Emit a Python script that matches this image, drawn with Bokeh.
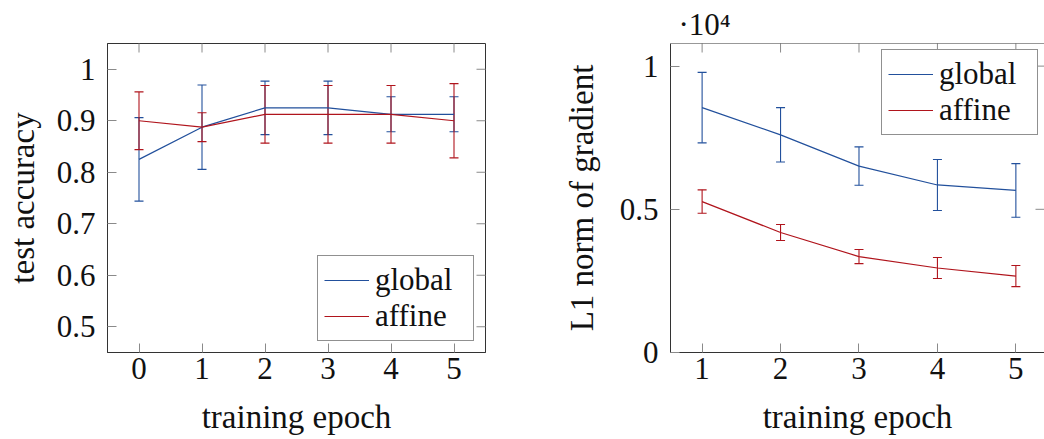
import math
from bokeh.plotting import figure
from bokeh.models import Range1d, FixedTicker, Whisker, ColumnDataSource, TeeHead, Span
from bokeh.layouts import row
from bokeh.embed import file_html
from bokeh.resources import INLINE

# ---------------- data ----------------
epochs_acc = [0, 1, 2, 3, 4, 5]
acc_global = [0.825, 0.8875, 0.925, 0.925, 0.9125, 0.9125]
acc_global_err = [0.081, 0.082, 0.052, 0.052, 0.034, 0.034]
acc_affine = [0.9, 0.8875, 0.9125, 0.9125, 0.9125, 0.9]
acc_affine_err = [0.056, 0.028, 0.056, 0.056, 0.056, 0.072]

epochs_grad = [1, 2, 3, 4, 5]
grad_global = [8550, 7600, 6510, 5850, 5660]
grad_global_err = [1230, 950, 670, 890, 935]
grad_affine = [5270, 4190, 3350, 2950, 2670]
grad_affine_err = [410, 280, 245, 365, 370]

acc_yticks = [0.5, 0.6, 0.7, 0.8, 0.9, 1.0]
acc_ytick_labels = ["0.5", "0.6", "0.7", "0.8", "0.9", "1"]
grad_yticks = [0, 5000, 10000]
grad_ytick_labels = ["0", "0.5", "1"]

series_names = ["global", "affine"]
BLUE = "#22509c"
RED = "#b0141c"
FONT = "Liberation Serif, DejaVu Serif, serif"
FS = "31px"
FS_LAB = "33px"
FRAME = "#333333"
TICK = "#8a8a8a"
TXT = "#111111"


def base_fig(width, xr, yr, min_left, min_right, ylab_standoff,
             xticks, yticks, ylabels, ylab):
    p = figure(width=width, height=439, x_range=Range1d(*xr), y_range=Range1d(*yr),
               output_backend="svg", toolbar_location=None,
               min_border_left=min_left, min_border_right=min_right,
               min_border_top=43, min_border_bottom=87)
    p.grid.visible = False
    p.outline_line_color = FRAME
    p.xaxis.ticker = FixedTicker(ticks=xticks)
    p.yaxis.ticker = FixedTicker(ticks=yticks)
    p.yaxis.major_label_overrides = {t: l for t, l in zip(yticks, ylabels)}
    p.xaxis.axis_label = "training epoch"
    p.yaxis.axis_label = ylab
    for ax in (p.xaxis[0], p.yaxis[0]):
        ax.axis_line_color = FRAME
        ax.major_tick_in = 9
        ax.major_tick_out = 0
        ax.major_tick_line_color = TICK
        ax.minor_tick_line_color = None
        ax.major_label_text_font = FONT
        ax.major_label_text_font_size = FS
        ax.major_label_text_color = TXT
        ax.axis_label_text_font = FONT
        ax.axis_label_text_font_size = FS_LAB
        ax.axis_label_text_font_style = "normal"
        ax.axis_label_text_color = TXT
    p.xaxis.major_label_standoff = 5
    p.xaxis.axis_label_standoff = 17
    p.yaxis.major_label_standoff = 12
    p.yaxis.axis_label_standoff = ylab_standoff
    # mirrored inward ticks on top and right edges (clipped to the frame)
    p.scatter(x=xticks, y=[yr[1]] * len(xticks), marker="dash", angle=math.pi / 2,
              size=18, line_color=TICK, line_width=1)
    p.scatter(x=[xr[1]] * len(yticks), y=yticks, marker="dash",
              size=18, line_color=TICK, line_width=1)
    return p


def add_series(p, xs, ys, errs, color, name):
    src = ColumnDataSource(dict(x=xs, y=ys,
                                upper=[v + e for v, e in zip(ys, errs)],
                                lower=[v - e for v, e in zip(ys, errs)]))
    p.line("x", "y", source=src, line_color=color, line_width=1.2, legend_label=name)
    w = Whisker(source=src, base="x", upper="upper", lower="lower",
                line_color=color, line_width=1.1,
                upper_head=TeeHead(size=9, line_color=color, line_width=1.1),
                lower_head=TeeHead(size=9, line_color=color, line_width=1.1))
    p.add_layout(w)


def style_legend(p, loc, margin):
    lg = p.legend[0]
    lg.location = loc
    lg.margin = margin
    lg.label_text_font = FONT
    lg.label_text_font_size = FS
    lg.label_text_color = TXT
    lg.border_line_color = "#222222"
    lg.border_line_width = 1
    lg.glyph_width = 45
    lg.glyph_height = 20
    lg.label_standoff = 6
    lg.label_width = 92
    lg.padding = 6
    lg.spacing = 0
    lg.background_fill_alpha = 1.0


# ---------------- left: test accuracy ----------------
acc_xr = (-0.5, 5.5)
acc_yr = (0.45, 1.05)
p1 = base_fig(560, acc_xr, acc_yr, 107, 75, 13, epochs_acc, acc_yticks,
              acc_ytick_labels, "test accuracy")
add_series(p1, epochs_acc, acc_global, acc_global_err, BLUE, series_names[0])
add_series(p1, epochs_acc, acc_affine, acc_affine_err, RED, series_names[1])
style_legend(p1, "bottom_right", 11)

# ---------------- right: L1 norm of gradient ----------------
grad_xr = (0.597, 5.365)
grad_yr = (0, 10790)
p2 = base_fig(484, grad_xr, grad_yr, 109, 0, 17, epochs_grad, grad_yticks,
              grad_ytick_labels, "L1 norm of gradient")
p2.outline_line_color = None
p2.add_layout(Span(location=grad_yr[1], dimension="width", line_color=FRAME, line_width=1))
add_series(p2, epochs_grad, grad_global, grad_global_err, BLUE, series_names[0])
add_series(p2, epochs_grad, grad_affine, grad_affine_err, RED, series_names[1])
style_legend(p2, "top_right", 6)

p2.title.text = "\u00b710\u2074"
p2.title.align = "left"
p2.title.offset = 8
p2.title.standoff = 4
p2.title.text_font = FONT
p2.title.text_font_size = FS
p2.title.text_font_style = "normal"
p2.title.text_color = TXT

layout = row(p1, p2)
open("out.html", "w").write(file_html(layout, INLINE))
